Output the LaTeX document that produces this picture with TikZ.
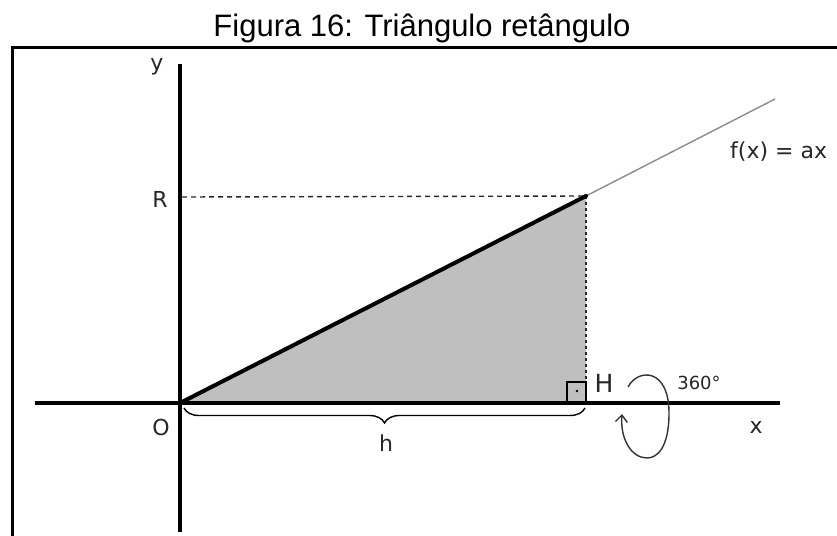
\documentclass[tikz,border=0pt]{standalone}
\usepackage{fontspec}
\setmainfont{Liberation Sans}
\newfontfamily\lblfont{DejaVu Sans}
\usetikzlibrary{arrows.meta,decorations.pathreplacing}
\tikzset{
  lbl/.style={font=\lblfont\fontsize{22}{26}\selectfont, text=black!85, inner sep=0pt},
  axisline/.style={line width=4.5pt, black},
  frameline/.style={line width=3pt, black},
  dashline/.style={line width=1.4pt, black!85, dash pattern=on 5pt off 4pt},
}
\begin{document}
\begin{tikzpicture}[x=1pt,y=-1pt]
\useasboundingbox (0,0) rectangle (837,535);
\clip (0,0) rectangle (837,535);
% title
\node[font=\fontsize{31}{36}\selectfont, anchor=base, inner sep=0pt] (title) at (422,37) {Figura 16: Triângulo retângulo};
% frame
\draw[frameline] (12,48) rectangle (870,570);
% coordinates
\coordinate (O) at (180,403);
\coordinate (V) at (586,196);
\coordinate (F) at (586,403);
\coordinate (E) at (775,99);
\coordinate (Ry) at (182,197);
% fill
\fill[black!25] (O) -- (V) -- (F) -- cycle;
% dashed
\draw[dashline] (Ry) -- (V);
\draw[dashline, dash pattern=on 3pt off 3pt] (V) -- (F);
% extension line
\draw[line width=1.4pt, black!45] (V) -- (E);
% axes
\coordinate (xl) at (35,403);
\coordinate (xr) at (780,403);
\coordinate (yt) at (180,64);
\coordinate (yb) at (180,532);
\draw[axisline] (xl) -- (xr);
\draw[axisline] (yb) -- (yt);
% hypotenuse
\draw[line width=4pt, line cap=round] (O) -- (V);
% right angle
\draw[line width=1.5pt] (567,403) rectangle (586,382);
\fill (577,391) circle (1.4pt);
% brace
\coordinate (b1) at (184,408);
\coordinate (b2) at (585,408);
\draw[line width=1.4pt, decorate, decoration={brace, amplitude=15pt, mirror}] (b1) -- (b2);
% loop arrow
\coordinate (l1) at (628,387);
\coordinate (l2) at (669,413);
\coordinate (l3) at (647,458);
\coordinate (l4) at (622,414);
\draw[line width=1.4pt, black!80, -{Straight Barb[length=7pt,width=12pt]}]
  (l1) .. controls (638,368) and (669,368) .. (l2)
       .. controls (669,448) and (657,458) .. (l3)
       .. controls (632,458) and (620,440) .. (l4);
% labels
\node[lbl] (ylab) at (157,67) {y};
\node[lbl] (Rlab) at (160,199) {R};
\node[lbl] (Olab) at (161,427) {O};
\node[lbl] (hlab) at (386,443) {h};
\node[lbl] (xlab) at (756,427) {x};
\node[lbl, font=\lblfont\fontsize{25}{28}\selectfont] (Hlab) at (604,383) {H};
\node[lbl, font=\lblfont\fontsize{18}{22}\selectfont] (deg) at (699,383) {360°};
\node[lbl, anchor=west] (flab) at (730,152) {f(x) = ax};
\end{tikzpicture}
\end{document}
